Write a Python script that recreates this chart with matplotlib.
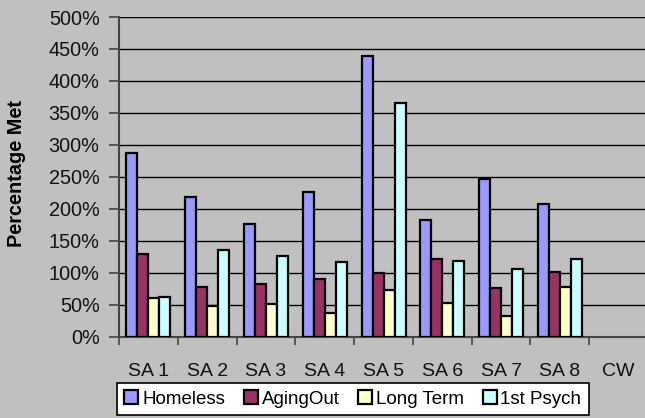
import matplotlib.pyplot as plt
import numpy as np
from matplotlib.ticker import PercentFormatter

plt.rcParams['font.family'] = ['Liberation Sans', 'DejaVu Sans']

# data
regions = ['SA 1', 'SA 2', 'SA 3', 'SA 4', 'SA 5', 'SA 6', 'SA 7', 'SA 8', 'CW']
homeless = [288, 218, 177, 227, 439, 182, 246, 207, np.nan]
aging_out = [130, 77, 82, 91, 100, 122, 76, 101, np.nan]
long_term = [61, 48, 51, 37, 73, 52, 33, 77, np.nan]
first_psych = [62, 136, 126, 117, 365, 119, 106, 121, np.nan]

series = [('Homeless', homeless, '#9999FF'),
          ('AgingOut', aging_out, '#993366'),
          ('Long Term', long_term, '#FFFFCC'),
          ('1st Psych', first_psych, '#CCFFFF')]

bg = '#C0C0C0'
fig = plt.figure(figsize=(6.45, 4.18), dpi=100, facecolor=bg)
ax = fig.add_axes([0.1845, 0.1945, 0.8202, 0.7648], facecolor=bg)

x = np.arange(len(regions))
w = 0.187
for i, (name, vals, col) in enumerate(series):
    ax.bar(x + (i - 1.5) * w, vals, w, color=col, edgecolor='black',
           linewidth=1.6, label=name, zorder=3)

ax.set_xlim(-0.5, len(regions) - 0.5)
ax.set_ylim(0, 500)
ax.set_yticks(np.arange(0, 501, 50))
ax.yaxis.set_major_formatter(PercentFormatter(decimals=0))
ax.yaxis.grid(True, color='black', linewidth=1.0, zorder=0)

ax.set_xticks(x)
ax.set_xticklabels(regions)
ax.set_xticks(np.arange(-0.5, len(regions), 1), minor=True)
ax.tick_params(axis='x', which='major', length=0, pad=19, labelsize=14, colors='#111111')
ax.tick_params(axis='x', which='minor', length=6, width=1.2, color='#444444')
ax.tick_params(axis='y', length=7, width=1.2, color='#444444', labelsize=14.3,
               labelcolor='#111111', pad=7)

for s in ['top', 'right']:
    ax.spines[s].set_visible(False)
ax.spines['left'].set_color('#444444')
ax.spines['left'].set_linewidth(1.5)
ax.spines['bottom'].set_color('#444444')
ax.spines['bottom'].set_linewidth(1.5)

fig.text(0.026, 0.585, 'Percentage Met', rotation=90, fontsize=14.3,
         fontweight='bold', ha='center', va='center')

leg = fig.legend(loc='upper left', bbox_to_anchor=(0.181, 0.084), ncol=4,
                 fontsize=13.5, frameon=True, fancybox=False, edgecolor='black',
                 facecolor='white', framealpha=1, handlelength=0.75,
                 handleheight=0.75, handletextpad=0.2, columnspacing=1.0,
                 borderpad=0.4, borderaxespad=0)
leg.get_frame().set_linewidth(1.2)

fig.savefig('out.png', dpi=100, facecolor=bg)
